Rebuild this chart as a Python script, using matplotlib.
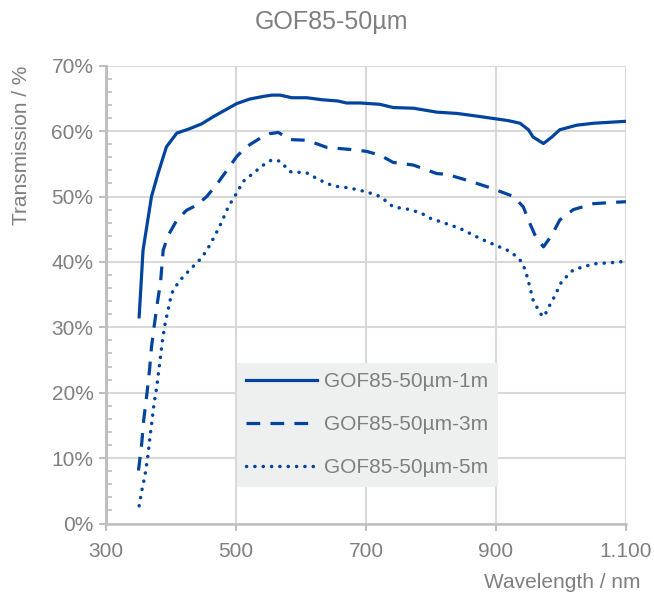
import matplotlib
matplotlib.use("Agg")
import matplotlib.pyplot as plt
from matplotlib.ticker import MultipleLocator, FixedLocator, FuncFormatter

plt.rcParams['font.family'] = ['Liberation Sans', 'DejaVu Sans']

# ---- data ----
title = "GOF85-50µm"
series_labels = ["GOF85-50µm-1m", "GOF85-50µm-3m", "GOF85-50µm-5m"]

wl_1m = [351, 357, 370, 380, 393, 409, 427, 447, 465, 483, 501, 521, 542, 555, 568,
         586, 609, 632, 657, 670, 691, 721, 742, 773, 809, 840, 870, 898, 919, 937,
         950, 957, 973, 986, 998, 1024, 1050, 1100]
t_1m = [31.6, 41.8, 50.0, 53.5, 57.6, 59.7, 60.3, 61.1, 62.2, 63.2, 64.2, 64.9, 65.3, 65.5, 65.5,
        65.1, 65.1, 64.8, 64.6, 64.3, 64.3, 64.1, 63.6, 63.5, 62.9, 62.7, 62.3, 61.9, 61.6, 61.2,
        60.2, 59.1, 58.1, 59.1, 60.2, 60.9, 61.2, 61.5]

wl_3m = [350, 355, 358, 363, 367, 370, 374, 379, 384, 388, 396, 409, 424, 440, 455,
         470, 486, 501, 516, 537, 552, 565, 583, 609, 640, 675, 701, 722, 742, 752,
         773, 809, 824, 855, 886, 911, 927, 942, 952, 960, 973, 986, 998, 1019, 1050,
         1080, 1100]
t_3m = [8.1, 12.3, 15.8, 19.9, 23.5, 27.0, 30.1, 33.7, 37.0, 41.8, 44.1, 46.4, 47.9, 48.7, 50.0,
        51.8, 54.0, 56.1, 57.6, 58.9, 59.6, 59.8, 58.7, 58.6, 57.5, 57.2, 56.9, 56.3, 55.2, 55.1,
        54.8, 53.5, 53.4, 52.5, 51.5, 50.6, 50.0, 48.4, 45.9, 44.1, 42.3, 44.1, 46.4, 48.0, 48.9,
        49.1, 49.2]

wl_5m = [351, 355, 360, 364, 368, 371, 374, 378, 381, 384, 387, 391, 396, 401, 409,
         414, 429, 447, 457, 468, 478, 488, 501, 511, 527, 542, 555, 568, 583, 609,
         629, 650, 675, 701, 722, 742, 768, 786, 798, 819, 845, 875, 898, 922, 937,
         945, 952, 957, 968, 974, 980, 991, 1001, 1019, 1050, 1080, 1100]
t_5m = [2.7, 5.0, 7.4, 10.0, 13.5, 15.9, 18.4, 20.8, 23.2, 25.6, 28.1, 30.6, 32.9, 35.2, 36.5,
        37.2, 38.8, 40.6, 42.1, 44.1, 46.1, 48.4, 50.5, 52.3, 53.6, 54.8, 55.6, 55.4, 53.8, 53.6,
        52.5, 51.6, 51.3, 50.7, 50.0, 48.4, 48.0, 47.4, 46.7, 46.0, 45.1, 43.6, 42.6, 41.6, 40.3,
        38.8, 36.2, 34.2, 32.1, 31.6, 32.9, 34.9, 37.0, 38.8, 39.7, 39.9, 40.1]

x_ticks = [300, 500, 700, 900, 1100]
x_tick_labels = ["300", "500", "700", "900", "1.100"]
y_ticks = [0, 10, 20, 30, 40, 50, 60, 70]

# ---- style ----
line_color = "#00449e"
text_color = "#7f7f7f"
grid_color = "#d9d9d9"
spine_color = "#bfbfbf"

fig = plt.figure(figsize=(6.54, 5.96), dpi=100)
ax = fig.add_axes([106 / 654, 1 - 523.5 / 596, 520 / 654, 457.8 / 596])

lw = 2.3
ax.plot(wl_1m, t_1m, color=line_color, lw=lw, solid_joinstyle='round',
        label=series_labels[0])
ax.plot(wl_3m, t_3m, color=line_color, lw=lw, linestyle=(0, (4.3, 3.2)),
        dash_capstyle='butt', label=series_labels[1])
ax.plot(wl_5m, t_5m, color=line_color, lw=lw + 0.2, linestyle=(0, (0.05, 2.35)),
        dash_capstyle='round', label=series_labels[2])

ax.set_xlim(300, 1100)
ax.set_ylim(0, 70)
ax.xaxis.set_major_locator(FixedLocator(x_ticks))
ax.set_xticklabels(x_tick_labels)
ax.yaxis.set_major_locator(FixedLocator(y_ticks))
ax.yaxis.set_major_formatter(FuncFormatter(lambda v, p: f"{int(round(v))}%"))
ax.yaxis.set_minor_locator(MultipleLocator(2))

ax.grid(True, which='major', color=grid_color, lw=1.5)
ax.set_axisbelow(True)
for s in ['top', 'right']:
    ax.spines[s].set_visible(False)
ax.spines['left'].set_color(spine_color)
ax.spines['left'].set_linewidth(2.2)
ax.spines['bottom'].set_color(spine_color)
ax.spines['bottom'].set_linewidth(1.8)

ax.tick_params(axis='both', which='major', colors=spine_color, labelcolor=text_color,
               labelsize=15, length=5, width=1.5, direction='out')
ax.tick_params(axis='y', which='minor', colors=spine_color, length=4, width=1.2,
               direction='in')
ax.tick_params(axis='y', which='major', pad=4)
ax.tick_params(axis='x', which='major', pad=8)

fig.text(332 / 654, 1 - 22 / 596, title, ha='center', va='center', fontsize=18,
         color=text_color)
fig.text(22 / 654, 1 - 145 / 596, "Transmission / %", rotation=90, ha='center',
         va='center', fontsize=15, color=text_color)
fig.text(641 / 654, 1 - 582 / 596, "Wavelength / nm", ha='right', va='center',
         fontsize=15, color=text_color)

leg = ax.legend(loc='upper left', bbox_to_anchor=((236.7 - 106) / 520, (523.5 - 362.7) / 457.8),
                fontsize=15, frameon=True, fancybox=False, facecolor='#eef0ef',
                edgecolor='none', framealpha=1, handlelength=3.4, handletextpad=0.35,
                labelspacing=1.16, borderpad=0.45, borderaxespad=0)
for t in leg.get_texts():
    t.set_color(text_color)

fig.savefig("out.png", dpi=100)
